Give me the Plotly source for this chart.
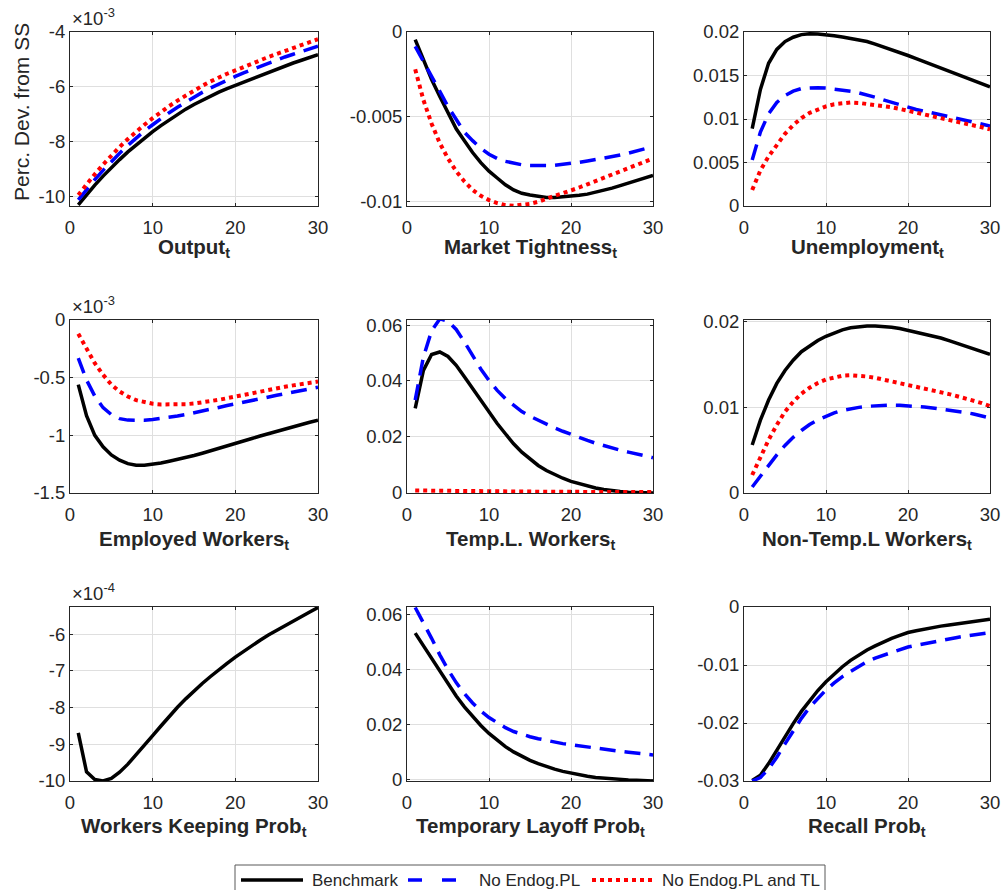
import plotly.graph_objects as go

W, H = 1003, 890
FONT = "Liberation Sans, Arial, Helvetica, sans-serif"
INK = "#262626"

# Horizon (quarters after the shock)
t = list(range(1, 31))

SERIES_NAMES = ["Benchmark", "No Endog.PL", "No Endog.PL and TL"]

# Output, x 10^-3
output_bench = [-10.30, -9.93, -9.58, -9.25, -8.94, -8.65, -8.37, -8.11, -7.86, -7.63,
                -7.41, -7.20, -7.00, -6.81, -6.64, -6.48, -6.33, -6.19, -6.06, -5.94,
                -5.82, -5.70, -5.58, -5.46, -5.35, -5.24, -5.13, -5.03, -4.93, -4.83]
output_nopl = [-10.12, -9.74, -9.38, -9.04, -8.72, -8.42, -8.13, -7.86, -7.61, -7.38,
               -7.15, -6.94, -6.74, -6.55, -6.37, -6.20, -6.04, -5.89, -5.75, -5.62,
               -5.49, -5.37, -5.25, -5.13, -5.02, -4.91, -4.81, -4.71, -4.61, -4.52]
output_nopltl = [-9.94, -9.55, -9.18, -8.83, -8.50, -8.19, -7.90, -7.63, -7.38, -7.14,
                 -6.91, -6.70, -6.50, -6.31, -6.13, -5.96, -5.80, -5.65, -5.52, -5.40,
                 -5.27, -5.15, -5.03, -4.91, -4.80, -4.69, -4.58, -4.47, -4.36, -4.26]

# Market tightness
tight_bench = [-0.00045, -0.0016, -0.0028, -0.0038, -0.0048, -0.0057, -0.0064, -0.0071, -0.0077, -0.0082,
               -0.0086, -0.0090, -0.0093, -0.0095, -0.0096, -0.0097, -0.00975, -0.00975, -0.00972, -0.00968,
               -0.00962, -0.00955, -0.00945, -0.00933, -0.0092, -0.00905, -0.0089, -0.00875, -0.0086, -0.00845]
tight_nopl = [-0.00085, -0.0017, -0.0026, -0.0035, -0.0044, -0.0052, -0.0059, -0.0064, -0.00685, -0.0072,
              -0.00745, -0.00762, -0.00774, -0.00782, -0.00786, -0.00788, -0.00787, -0.00785, -0.00781, -0.00775,
              -0.00768, -0.0076, -0.00752, -0.00744, -0.00735, -0.00725, -0.00714, -0.00702, -0.00689, -0.00675]
tight_nopltl = [-0.0022, -0.0040, -0.0054, -0.00655, -0.00745, -0.0082, -0.0088, -0.0093, -0.00965, -0.0099,
                -0.01008, -0.0102, -0.01024, -0.0102, -0.01012, -0.0100, -0.0098, -0.00965, -0.0095, -0.00935,
                -0.00916, -0.00897, -0.00878, -0.00859, -0.0084, -0.00821, -0.00802, -0.00783, -0.00764, -0.00745]

# Unemployment
unemp_bench = [0.0089, 0.0134, 0.0164, 0.0180, 0.0189, 0.0194, 0.0197, 0.0198, 0.01978, 0.0197,
               0.01957, 0.01942, 0.01926, 0.0191, 0.0189, 0.0186, 0.0183, 0.0180, 0.01765, 0.0173,
               0.01695, 0.0166, 0.01625, 0.0159, 0.01555, 0.0152, 0.01485, 0.0145, 0.0141, 0.0137]
unemp_nopl = [0.0053, 0.0085, 0.0106, 0.0119, 0.0127, 0.0132, 0.0135, 0.0136, 0.0136, 0.01355,
              0.01345, 0.01335, 0.0132, 0.0130, 0.0128, 0.0125, 0.0122, 0.0119, 0.0116, 0.0113,
              0.0111, 0.0109, 0.0107, 0.0105, 0.0103, 0.0101, 0.0099, 0.0097, 0.00945, 0.0092]
unemp_nopltl = [0.00185, 0.0041, 0.0057, 0.0071, 0.0083, 0.0093, 0.0101, 0.0107, 0.0111, 0.01145,
                0.0117, 0.01185, 0.0119, 0.01185, 0.01175, 0.01165, 0.0115, 0.01135, 0.01115, 0.01095,
                0.01075, 0.01055, 0.01035, 0.01015, 0.00995, 0.00975, 0.00955, 0.0093, 0.00905, 0.0088]

# Employed workers, x 10^-3
emp_bench = [-0.56, -0.83, -1.0, -1.1, -1.17, -1.215, -1.245, -1.26, -1.26, -1.253,
             -1.24, -1.225, -1.21, -1.193, -1.175, -1.155, -1.135, -1.113, -1.091, -1.069,
             -1.048, -1.027, -1.006, -0.985, -0.964, -0.944, -0.925, -0.906, -0.887, -0.869]
emp_nopl = [-0.33, -0.52, -0.66, -0.76, -0.82, -0.855, -0.868, -0.872, -0.87, -0.863,
            -0.855, -0.845, -0.833, -0.82, -0.806, -0.79, -0.774, -0.758, -0.742, -0.726,
            -0.711, -0.696, -0.681, -0.667, -0.653, -0.639, -0.625, -0.611, -0.597, -0.583]
emp_nopltl = [-0.12, -0.25, -0.375, -0.475, -0.56, -0.62, -0.663, -0.695, -0.714, -0.726,
              -0.732, -0.734, -0.733, -0.73, -0.724, -0.715, -0.704, -0.692, -0.678, -0.663,
              -0.648, -0.633, -0.619, -0.605, -0.591, -0.579, -0.567, -0.556, -0.545, -0.534]

# Workers on temporary layoff
templ_bench = [0.0301, 0.0438, 0.0495, 0.0504, 0.0488, 0.0456, 0.0415, 0.0373, 0.0330, 0.0286,
               0.0247, 0.0210, 0.0174, 0.0144, 0.0118, 0.0096, 0.0078, 0.0063, 0.0050, 0.0039,
               0.0030, 0.0022, 0.0015, 0.00095, 0.0005, 0.0002, 0.0, -0.00015, -0.00025, -0.0003]
templ_nopl = [0.0331, 0.0486, 0.0580, 0.0623, 0.0615, 0.0585, 0.0540, 0.0490, 0.0443, 0.0402,
              0.0366, 0.0336, 0.0311, 0.0290, 0.0273, 0.0258, 0.0244, 0.0231, 0.0219, 0.0207,
              0.0196, 0.0186, 0.0176, 0.0167, 0.0159, 0.0151, 0.0144, 0.0137, 0.0130, 0.0124]
templ_nopltl = [0.0006, 0.00055, 0.0005, 0.00045, 0.00042, 0.00039, 0.00036, 0.00033, 0.0003, 0.00028,
                0.00026, 0.00024, 0.00022, 0.0002, 0.00018, 0.00017, 0.00015, 0.00014, 0.00013, 0.00012,
                0.00011, 0.0001, 0.00009, 0.00008, 0.00007, 0.00006, 0.00005, 0.00004, 0.00003, 0.00002]

# Workers not on temporary layoff
ntl_bench = [0.0056, 0.0085, 0.01085, 0.0128, 0.0143, 0.0155, 0.0165, 0.0172, 0.0178, 0.0183,
             0.0187, 0.01905, 0.0193, 0.01945, 0.0195, 0.0195, 0.01945, 0.01935, 0.0192, 0.0190,
             0.0188, 0.0186, 0.01835, 0.0181, 0.0178, 0.0175, 0.0172, 0.0169, 0.01655, 0.0162]
ntl_nopl = [0.0007, 0.00195, 0.0033, 0.00445, 0.00555, 0.0065, 0.0073, 0.0080, 0.00855, 0.0090,
            0.00935, 0.00965, 0.00985, 0.0100, 0.01012, 0.0102, 0.01025, 0.01027, 0.01025, 0.0102,
            0.01012, 0.01003, 0.00993, 0.00982, 0.0097, 0.00955, 0.0094, 0.00923, 0.009, 0.00875]
ntl_nopltl = [0.0021, 0.00425, 0.0062, 0.00795, 0.0095, 0.01065, 0.0116, 0.0123, 0.01285, 0.01325,
              0.0135, 0.0137, 0.01375, 0.0137, 0.0136, 0.01345, 0.01325, 0.01305, 0.0128, 0.01255,
              0.01235, 0.01215, 0.01195, 0.01175, 0.01155, 0.0113, 0.01105, 0.0108, 0.0105, 0.01015]

# Probability of keeping workers, x 10^-4
keep_bench = [-8.69, -9.75, -9.96, -10.0, -9.93, -9.76, -9.54, -9.29, -9.03, -8.76,
              -8.50, -8.24, -7.99, -7.76, -7.54, -7.34, -7.15, -6.96, -6.79, -6.62,
              -6.46, -6.31, -6.16, -6.02, -5.89, -5.76, -5.63, -5.51, -5.39, -5.27]

# Temporary layoff probability
tlp_bench = [0.0532, 0.0486, 0.0439, 0.0391, 0.0346, 0.0303, 0.0264, 0.0228, 0.0196, 0.0167,
             0.0141, 0.0119, 0.0100, 0.0083, 0.0069, 0.0057, 0.0046, 0.0037, 0.0029, 0.0022,
             0.0016, 0.0011, 0.0007, 0.0004, 0.00015, -0.00005, -0.0002, -0.00035, -0.0005, -0.0006]
tlp_nopl = [0.0625, 0.0572, 0.0513, 0.0453, 0.0399, 0.0352, 0.0312, 0.0278, 0.0249, 0.0225,
            0.0205, 0.0188, 0.0174, 0.0164, 0.0155, 0.0148, 0.0141, 0.0135, 0.0130, 0.0126,
            0.01215, 0.01175, 0.01135, 0.011, 0.0106, 0.0102, 0.00985, 0.0095, 0.0092, 0.0089]

# Recall probability
rec_bench = [-0.0299, -0.0290, -0.0270, -0.0247, -0.0223, -0.0201, -0.0180, -0.0161, -0.0144, -0.0129,
             -0.0115, -0.0103, -0.0092, -0.0083, -0.0074, -0.0067, -0.0060, -0.0054, -0.0049, -0.0044,
             -0.0041, -0.0038, -0.0035, -0.0033, -0.0031, -0.0029, -0.0027, -0.0025, -0.0023, -0.0021]
rec_nopl = [-0.0300, -0.0294, -0.0279, -0.0259, -0.0236, -0.0213, -0.0192, -0.0173, -0.0157, -0.0143,
            -0.0131, -0.0120, -0.0111, -0.0102, -0.0094, -0.0088, -0.0083, -0.0078, -0.0073, -0.0069,
            -0.0066, -0.0063, -0.0060, -0.00575, -0.0055, -0.00525, -0.0050, -0.0048, -0.0046, -0.0044]

x_ticks = [0, 10, 20, 30]

panels = [
    dict(title="Output", series=[output_bench, output_nopl, output_nopltl],
         yrange=[-10.34, -4], ticks=[-10, -8, -6, -4], labels=["-10", "-8", "-6", "-4"], exponent="-3"),
    dict(title="Market Tightness", series=[tight_bench, tight_nopl, tight_nopltl],
         yrange=[-0.01025, 0], ticks=[-0.01, -0.005, 0], labels=["-0.01", "-0.005", "0"]),
    dict(title="Unemployment", series=[unemp_bench, unemp_nopl, unemp_nopltl],
         yrange=[0, 0.02], ticks=[0, 0.005, 0.01, 0.015, 0.02],
         labels=["0", "0.005", "0.01", "0.015", "0.02"]),
    dict(title="Employed Workers", series=[emp_bench, emp_nopl, emp_nopltl],
         yrange=[-1.5, 0], ticks=[-1.5, -1, -0.5, 0], labels=["-1.5", "-1", "-0.5", "0"], exponent="-3"),
    dict(title="Temp.L. Workers", series=[templ_bench, templ_nopl, templ_nopltl],
         yrange=[-0.0003, 0.0619], ticks=[0, 0.02, 0.04, 0.06], labels=["0", "0.02", "0.04", "0.06"]),
    dict(title="Non-Temp.L Workers", series=[ntl_bench, ntl_nopl, ntl_nopltl],
         yrange=[0, 0.0202], ticks=[0, 0.01, 0.02], labels=["0", "0.01", "0.02"]),
    dict(title="Workers Keeping Prob", series=[keep_bench],
         yrange=[-10, -5.255], ticks=[-10, -9, -8, -7, -6], labels=["-10", "-9", "-8", "-7", "-6"],
         exponent="-4"),
    dict(title="Temporary Layoff Prob", series=[tlp_bench, tlp_nopl],
         yrange=[-0.0006, 0.0627], ticks=[0, 0.02, 0.04, 0.06], labels=["0", "0.02", "0.04", "0.06"]),
    dict(title="Recall Prob", series=[rec_bench, rec_nopl],
         yrange=[-0.03, 0], ticks=[-0.03, -0.02, -0.01, 0], labels=["-0.03", "-0.02", "-0.01", "0"]),
]

line_styles = [
    dict(color="#000000", width=3.5),
    dict(color="#0000ff", width=3.5, dash="16px,9px"),
    dict(color="#ff0000", width=4, dash="dot"),
]
# Legend key samples (shorter dash rhythm for the short blue key)
legend_dash = [None, "14px,20px", "dot"]

# Pixel frame of each axes box
col_px = [(70, 318), (407, 653), (744, 990)]
row_px = [(32, 206), (320, 493), (607, 781)]
title_px = [248, 540, 827]

# Legend box and entries, in pixels
legend_box = (235, 865, 825, 905)
legend_key_px = [(241, 303), (408, 458), (592, 653)]
legend_text_px = [310, 477, 660]
legend_mid_px = 880


def px_x(p):
    return p / W


def px_y(p):
    return 1 - p / H


fig = go.Figure()
layout_axes = {}
annotations = []
shapes = []

for i, panel in enumerate(panels):
    r, c = divmod(i, 3)
    sfx = "" if i == 0 else str(i + 1)
    for k, ys in enumerate(panel["series"]):
        fig.add_trace(go.Scatter(
            x=t, y=ys, mode="lines", name=SERIES_NAMES[k],
            line=line_styles[k], showlegend=False,
            xaxis="x" + sfx, yaxis="y" + sfx, hoverinfo="skip",
        ))
    x0, x1 = col_px[c]
    y0, y1 = row_px[r]
    common = dict(
        showline=True, mirror="ticks", linecolor=INK, linewidth=1,
        showgrid=True, gridcolor="#dfdfdf", gridwidth=1, zeroline=False,
        ticks="inside", ticklen=3, tickcolor=INK, tickwidth=1,
        tickfont=dict(family=FONT, size=18.5, color=INK),
        fixedrange=True,
    )
    layout_axes["xaxis" + sfx] = dict(
        common, domain=[px_x(x0), px_x(x1)], range=[0, 30],
        tickvals=x_ticks, ticktext=[str(v) for v in x_ticks],
        ticklabelstandoff=5, anchor="y" + sfx,
    )
    layout_axes["yaxis" + sfx] = dict(
        common, domain=[px_y(y1), px_y(y0)], range=panel["yrange"],
        tickvals=panel["ticks"], ticktext=panel["labels"],
        anchor="x" + sfx,
    )
    annotations.append(dict(
        text="<b>" + panel["title"] + "<sub>t</sub></b>",
        x=px_x((x0 + x1) / 2), y=px_y(title_px[r]), xref="paper", yref="paper",
        xanchor="center", yanchor="middle", showarrow=False,
        font=dict(family=FONT, size=20.5, color=INK),
    ))
    if panel.get("exponent"):
        annotations.append(dict(
            text="\u00d710<sup>" + panel["exponent"] + "</sup>",
            x=px_x(x0), y=px_y(y0 - 1), xref="paper", yref="paper",
            xanchor="left", yanchor="bottom", showarrow=False,
            font=dict(family=FONT, size=18.5, color=INK),
        ))

annotations.append(dict(
    text="Perc. Dev. from SS", textangle=-90,
    x=px_x(22), y=px_y(112), xref="paper", yref="paper",
    xanchor="center", yanchor="middle", showarrow=False,
    font=dict(family=FONT, size=21, color=INK),
))

# Legend drawn as a framed key row under the panels
bx0, by0, bx1, by1 = legend_box
shapes.append(dict(
    type="rect", xref="paper", yref="paper",
    x0=px_x(bx0), x1=px_x(bx1), y0=px_y(by1), y1=px_y(by0),
    line=dict(color="#595959", width=1), fillcolor="white", layer="above",
))
for k, name in enumerate(SERIES_NAMES):
    kx0, kx1 = legend_key_px[k]
    key_line = dict(color=line_styles[k]["color"], width=line_styles[k]["width"])
    if legend_dash[k]:
        key_line["dash"] = legend_dash[k]
    shapes.append(dict(
        type="line", xref="paper", yref="paper",
        x0=px_x(kx0), x1=px_x(kx1), y0=px_y(legend_mid_px), y1=px_y(legend_mid_px),
        line=key_line, layer="above",
    ))
    annotations.append(dict(
        text=name, x=px_x(legend_text_px[k]), y=px_y(legend_mid_px),
        xref="paper", yref="paper", xanchor="left", yanchor="middle",
        showarrow=False, font=dict(family=FONT, size=17, color=INK),
    ))

fig.update_layout(
    width=W, height=H,
    margin=dict(l=0, r=0, t=0, b=0, autoexpand=False),
    paper_bgcolor="white", plot_bgcolor="white",
    font=dict(family=FONT, color=INK),
    annotations=annotations,
    shapes=shapes,
    showlegend=False,
    **layout_axes,
)

fig.write_html("out.html", config={"displayModeBar": False})
